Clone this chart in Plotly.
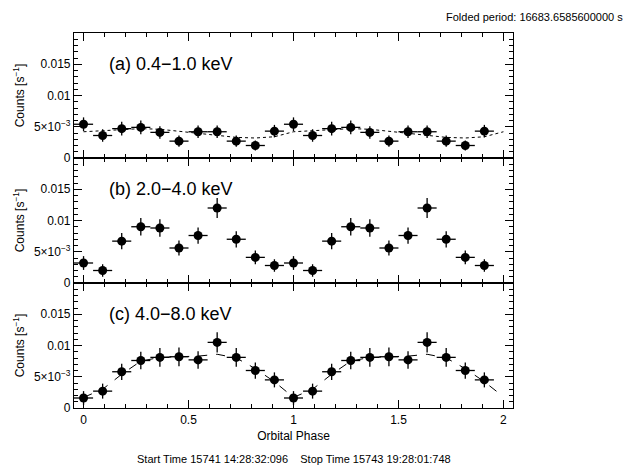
import plotly.graph_objects as go
from plotly.subplots import make_subplots

# bin centres over two folded cycles
phase = [0.0, 0.0909, 0.1818, 0.2727, 0.3636, 0.4545, 0.5455, 0.6364, 0.7273, 0.8182, 0.9091,
         1.0, 1.0909, 1.1818, 1.2727, 1.3636, 1.4545, 1.5455, 1.6364, 1.7273, 1.8182, 1.9091]
half_bin = 0.04545

rate_a = [5.4e-3, 3.6e-3, 4.7e-3, 4.9e-3, 4.1e-3, 2.7e-3, 4.2e-3, 4.2e-3, 2.7e-3, 2.0e-3, 4.3e-3,
          5.4e-3, 3.6e-3, 4.7e-3, 4.9e-3, 4.1e-3, 2.7e-3, 4.2e-3, 4.2e-3, 2.7e-3, 2.0e-3, 4.3e-3]
err_a = [1.1e-3, 1.0e-3, 1.1e-3, 1.1e-3, 1.0e-3, 0.9e-3, 1.0e-3, 1.0e-3, 0.9e-3, 0.8e-3, 1.0e-3,
         1.1e-3, 1.0e-3, 1.1e-3, 1.1e-3, 1.0e-3, 0.9e-3, 1.0e-3, 1.0e-3, 0.9e-3, 0.8e-3, 1.0e-3]

rate_b = [3.2e-3, 2.0e-3, 6.7e-3, 9.0e-3, 8.8e-3, 5.6e-3, 7.6e-3, 12.0e-3, 7.0e-3, 4.1e-3, 2.8e-3,
          3.2e-3, 2.0e-3, 6.7e-3, 9.0e-3, 8.8e-3, 5.6e-3, 7.6e-3, 12.0e-3, 7.0e-3, 4.1e-3, 2.8e-3]
err_b = [1.1e-3, 1.0e-3, 1.3e-3, 1.4e-3, 1.4e-3, 1.2e-3, 1.3e-3, 1.6e-3, 1.3e-3, 1.1e-3, 1.0e-3,
         1.1e-3, 1.0e-3, 1.3e-3, 1.4e-3, 1.4e-3, 1.2e-3, 1.3e-3, 1.6e-3, 1.3e-3, 1.1e-3, 1.0e-3]

rate_c = [1.6e-3, 2.7e-3, 5.8e-3, 7.6e-3, 8.1e-3, 8.2e-3, 7.7e-3, 10.5e-3, 8.1e-3, 6.0e-3, 4.5e-3,
          1.6e-3, 2.7e-3, 5.8e-3, 7.6e-3, 8.1e-3, 8.2e-3, 7.7e-3, 10.5e-3, 8.1e-3, 6.0e-3, 4.5e-3]
err_c = [1.1e-3, 1.2e-3, 1.3e-3, 1.4e-3, 1.5e-3, 1.5e-3, 1.4e-3, 1.6e-3, 1.5e-3, 1.3e-3, 1.2e-3,
         1.1e-3, 1.2e-3, 1.3e-3, 1.4e-3, 1.5e-3, 1.5e-3, 1.4e-3, 1.6e-3, 1.5e-3, 1.3e-3, 1.2e-3]

# model curves
model_phase = [0.0, 0.0909, 0.1818, 0.2727, 0.3636, 0.4545, 0.5455, 0.6364, 0.7273, 0.8182, 0.9091,
               1.0, 1.0909, 1.1818, 1.2727, 1.3636, 1.4545, 1.5455, 1.6364, 1.7273, 1.8182, 1.9091, 2.0]
model_a = [4.2e-3, 4.4e-3, 4.6e-3, 4.7e-3, 4.6e-3, 4.3e-3, 3.9e-3, 3.6e-3, 3.3e-3, 3.2e-3, 3.4e-3,
           4.2e-3, 4.4e-3, 4.6e-3, 4.7e-3, 4.6e-3, 4.3e-3, 3.9e-3, 3.6e-3, 3.3e-3, 3.2e-3, 3.4e-3, 4.2e-3]
model_c = [1.7e-3, 3.0e-3, 5.4e-3, 7.5e-3, 8.1e-3, 8.2e-3, 8.3e-3, 8.6e-3, 8.0e-3, 6.3e-3, 4.2e-3,
           1.7e-3, 3.0e-3, 5.4e-3, 7.5e-3, 8.1e-3, 8.2e-3, 8.3e-3, 8.6e-3, 8.0e-3, 6.3e-3, 4.2e-3, 1.8e-3]

labels = ['(a) 0.4\u22121.0 keV', '(b) 2.0\u22124.0 keV', '(c) 4.0\u22128.0 keV']
ytickvals = [0, 0.005, 0.01, 0.015]
yticktext = ['0', '5\u00d710<sup>\u22123</sup>', '0.01', '0.015']

FONT = 'Liberation Sans, Arial, sans-serif'

fig = make_subplots(rows=3, cols=1, shared_xaxes=True, vertical_spacing=0)

panels = [(rate_a, err_a), (rate_b, err_b), (rate_c, err_c)]
for i, (r, e) in enumerate(panels, start=1):
    fig.add_trace(go.Scatter(
        x=phase, y=r, mode='markers',
        marker=dict(color='black', size=9),
        error_x=dict(type='constant', value=half_bin, color='black', thickness=1.3, width=0),
        error_y=dict(type='data', array=e, color='black', thickness=1.3, width=0),
        showlegend=False), row=i, col=1)

fig.add_trace(go.Scatter(x=model_phase, y=model_a, mode='lines',
                         line=dict(color='black', width=1, dash='dot'), showlegend=False), row=1, col=1)
fig.add_trace(go.Scatter(x=model_phase, y=model_c, mode='lines',
                         line=dict(color='black', width=1, dash='dash'), showlegend=False), row=3, col=1)

fig.update_xaxes(range=[-0.0455, 2.0455], tickvals=[0, 0.5, 1, 1.5, 2], ticktext=['0', '0.5', '1', '1.5', '2'],
                 ticks='inside', ticklen=8, tickwidth=1, tickcolor='black',
                 minor=dict(dtick=0.1, tick0=0, ticks='inside', ticklen=4, tickcolor='black'),
                 showline=True, linecolor='black', linewidth=1.2, mirror='allticks',
                 showgrid=False, zeroline=False, tickfont=dict(size=12, color='black'))
fig.update_yaxes(range=[0, 0.02], tickvals=ytickvals, ticktext=yticktext,
                 ticks='inside', ticklen=8, tickwidth=1, tickcolor='black',
                 minor=dict(dtick=0.001, tick0=0, ticks='inside', ticklen=4, tickcolor='black'),
                 showline=True, linecolor='black', linewidth=1.2, mirror='allticks',
                 showgrid=False, zeroline=False, tickfont=dict(size=12, color='black'),
                 title=dict(text='Counts [s<sup>\u22121</sup>]', font=dict(size=12, color='black'), standoff=6))
fig.update_xaxes(title=dict(text='Orbital Phase', font=dict(size=12, color='black'), standoff=6), row=3, col=1)

for i, txt in enumerate(labels, start=1):
    xd = 'x domain' if i == 1 else 'x%d domain' % i
    yd = 'y domain' if i == 1 else 'y%d domain' % i
    fig.add_annotation(text=txt, xref=xd, yref=yd, x=0.075, y=0.75, xanchor='left', yanchor='middle',
                       showarrow=False, font=dict(size=18, color='black'))

fig.add_annotation(text='Folded period: 16683.6585600000 s', xref='paper', yref='paper',
                   x=1.2545, y=1.043, xanchor='right', yanchor='middle', showarrow=False,
                   font=dict(size=11, color='black'))
fig.add_annotation(text='Start Time 15741 14:28:32:096    Stop Time 15743 19:28:01:748',
                   xref='paper', yref='paper', x=0.5, y=-0.136, xanchor='center', yanchor='middle',
                   showarrow=False, font=dict(size=11, color='black'))

fig.update_layout(width=636, height=471, margin=dict(l=61, r=131, t=25, b=71),
                  plot_bgcolor='white', paper_bgcolor='white',
                  font=dict(family=FONT, color='black'))

fig.write_html('out.html')
